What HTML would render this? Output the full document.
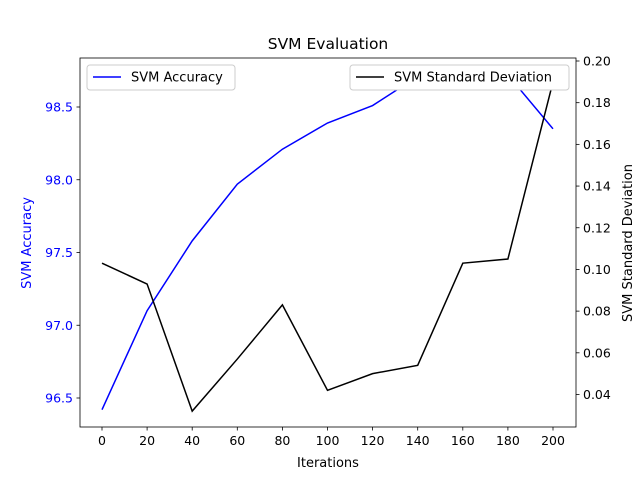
<!DOCTYPE html>
<html><head><meta charset="utf-8"><style>
body{margin:0;background:#fff;}
svg text{font-family:"DejaVu Sans","Liberation Sans",sans-serif;}
</style></head><body>
<svg id="chart" width="640" height="480" xmlns="http://www.w3.org/2000/svg">
<rect width="640" height="480" fill="#fff"/>
<g id="g"></g>
</svg>
<script>
const iterations=[0,20,40,60,80,100,120,140,160,180,200];
const accuracy=[96.42,97.1,97.58,97.97,98.21,98.39,98.51,98.71,98.72,98.72,98.35];
const stdDev=[0.103,0.093,0.032,0.057,0.083,0.042,0.050,0.054,0.103,0.105,0.19];
const xTicks=[0,20,40,60,80,100,120,140,160,180,200];
const leftTicks=[96.5,97.0,97.5,98.0,98.5];
const rightTicks=[0.04,0.06,0.08,0.10,0.12,0.14,0.16,0.18,0.20];

const L=80,R=576,T=58,B=427;
const xs=v=>102+(v-0)*(553-102)/200;
const yl=v=>398-(v-96.5)*145.5;
const yr=v=>394.5-(v-0.04)*(333.5/0.16);
const g=document.getElementById('g');
const NS='http://www.w3.org/2000/svg';
function mk(tag,attrs,parent){const e=document.createElementNS(NS,tag);for(const k in attrs)e.setAttribute(k,attrs[k]);(parent||g).appendChild(e);return e;}
function txt(s,attrs){const e=mk('text',attrs);e.textContent=s;return e;}

let d=iterations.map((v,i)=>(i?'L':'M')+xs(v)+','+yl(accuracy[i])).join(' ');
const pa=mk('path',{d:d,fill:'none',stroke:'#0000ff','stroke-width':1.5});


d=iterations.map((v,i)=>(i?'L':'M')+xs(v)+','+yr(stdDev[i])).join(' ');
const ps=mk('path',{d:d,fill:'none',stroke:'#000','stroke-width':1.5});



const fr=mk('rect',{x:L,y:T,width:R-L,height:B-T,fill:'none',stroke:'#000','stroke-width':0.8});



xTicks.forEach(v=>{const x=xs(v);mk('line',{x1:x,x2:x,y1:B,y2:B+3.5,stroke:'#000','stroke-width':0.8});
const t=txt(String(v),{x:x,y:B+18,'font-size':12.5,'text-anchor':'middle'});

});
leftTicks.forEach(v=>{const y=yl(v);mk('line',{x1:L-3.5,x2:L,y1:y,y2:y,stroke:'#000','stroke-width':0.8});
const t=txt(v.toFixed(1),{x:L-7,y:y+4.5,'font-size':12.5,'text-anchor':'end',fill:'#0000ff'});

});
rightTicks.forEach(v=>{const y=yr(v);mk('line',{x1:R,x2:R+3.5,y1:y,y2:y,stroke:'#000','stroke-width':0.8});
const t=txt(v.toFixed(2),{x:R+7,y:y+4.5,'font-size':12.5,'text-anchor':'start'});

});

let t=txt('SVM Evaluation',{x:328,y:49,'font-size':15.5,'text-anchor':'middle'});


t=txt('Iterations',{x:328,y:467,'font-size':13,'text-anchor':'middle'});


t=txt('SVM Accuracy',{x:31,y:243,'font-size':13,'text-anchor':'middle',fill:'#0000ff',transform:'rotate(-90 31 243)'});


t=txt('SVM Standard Deviation',{x:632,y:243,'font-size':13,'text-anchor':'middle',transform:'rotate(-90 632 243)'});



let lg=mk('g',{});


mk('rect',{x:87,y:65,width:148,height:25,rx:3,fill:'#fff',stroke:'#ccc','stroke-width':1},lg);
mk('line',{x1:93,x2:121,y1:77,y2:77,stroke:'#0000ff','stroke-width':1.5},lg);
let e=mk('text',{x:131,y:81.5,'font-size':13},lg);e.textContent='SVM Accuracy';
lg=mk('g',{});


mk('rect',{x:350,y:65,width:219,height:25,rx:3,fill:'#fff',stroke:'#ccc','stroke-width':1},lg);
mk('line',{x1:356,x2:384,y1:77,y2:77,stroke:'#000','stroke-width':1.5},lg);
e=mk('text',{x:394,y:81.5,'font-size':13},lg);e.textContent='SVM Standard Deviation';
</script>
</body></html>
